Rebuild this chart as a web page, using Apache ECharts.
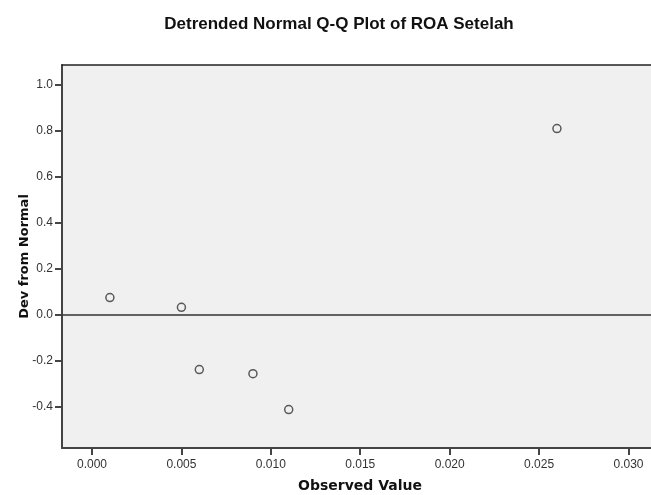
<!DOCTYPE html>
<html>
<head>
<meta charset="utf-8">
<script src="https://cdn.jsdelivr.net/npm/echarts@6/dist/echarts.min.js"></script>
<style>html,body{margin:0;padding:0;background:#fff;}#c{width:651px;height:495px;}</style>
</head>
<body>
<div id="c"></div>
<script>
const observedValues = [0.001, 0.005, 0.006, 0.009, 0.011, 0.026];
const devFromNormal = [0.074, 0.032, -0.239, -0.257, -0.413, 0.809];
const xTicks = [0.000, 0.005, 0.010, 0.015, 0.020, 0.025, 0.030];
const yTicks = [-0.4, -0.2, 0.0, 0.2, 0.4, 0.6, 0.8, 1.0];

const points = observedValues.map((x, i) => [x, devFromNormal[i]]);
const font = 'Liberation Sans, Arial, sans-serif';
const boldFont = 'DejaVu Sans, Verdana, sans-serif';

const chart = echarts.init(document.getElementById('c'), null, {renderer: 'canvas'});
chart.setOption({
  animation: false,
  backgroundColor: '#ffffff',
  title: {
    text: 'Detrended Normal Q-Q Plot of ROA Setelah',
    left: 334, top: 11, textAlign: 'center',
    textStyle: {fontFamily: font, fontSize: 17, fontWeight: 'bold', color: '#111'}
  },
  grid: {
    left: 62, top: 65, right: 0, bottom: 47,
    containLabel: false, outerBoundsMode: 'none',
    show: true, backgroundColor: '#f0f0f0', borderWidth: 0
  },
  xAxis: [{
    type: 'value', min: -0.001678, max: 0.03126,
    name: 'Observed Value', nameLocation: 'middle', nameGap: 31, nameMoveOverlap: false,
    nameTextStyle: {fontFamily: boldFont, fontSize: 14, fontWeight: 'bold', color: '#111', padding: [0, 0, 0, 7]},
    splitLine: {show: false},
    axisLine: {show: true, onZero: false, lineStyle: {color: '#444', width: 2}},
    axisTick: {show: true, inside: false, length: 7, lineStyle: {color: '#444', width: 2}, customValues: xTicks},
    axisLabel: {customValues: xTicks, formatter: v => v.toFixed(3), fontFamily: font, fontSize: 12, color: '#333', margin: 11}
  }, {
    type: 'value', position: 'top', min: -0.001678, max: 0.03126,
    splitLine: {show: false},
    axisLine: {show: true, onZero: false, lineStyle: {color: '#222', width: 1.5}},
    axisTick: {show: false},
    axisLabel: {show: false}
  }],
  yAxis: {
    type: 'value', min: -0.58, max: 1.0857,
    name: 'Dev from Normal', nameLocation: 'middle', nameGap: 31, nameRotate: 90, nameMoveOverlap: false,
    nameTextStyle: {fontFamily: boldFont, fontSize: 13, fontWeight: 'bold', color: '#111'},
    splitLine: {show: false},
    axisLine: {show: true, onZero: false, lineStyle: {color: '#444', width: 2}},
    axisTick: {show: true, inside: false, length: 7, lineStyle: {color: '#444', width: 2}, customValues: yTicks},
    axisLabel: {customValues: yTicks, formatter: v => v.toFixed(1), fontFamily: font, fontSize: 12, color: '#333', margin: 9}
  },
  series: [{
    type: 'scatter',
    xAxisIndex: 0,
    data: points,
    symbol: 'circle',
    symbolSize: 8,
    itemStyle: {color: 'rgba(0,0,0,0)', borderColor: '#333', borderWidth: 1.5},
    markLine: {
      silent: true, symbol: ['none', 'none'], label: {show: false},
      lineStyle: {color: '#333', width: 1.5, type: 'solid'},
      data: [{yAxis: 0}]
    }
  }]
});
</script>
</body>
</html>
